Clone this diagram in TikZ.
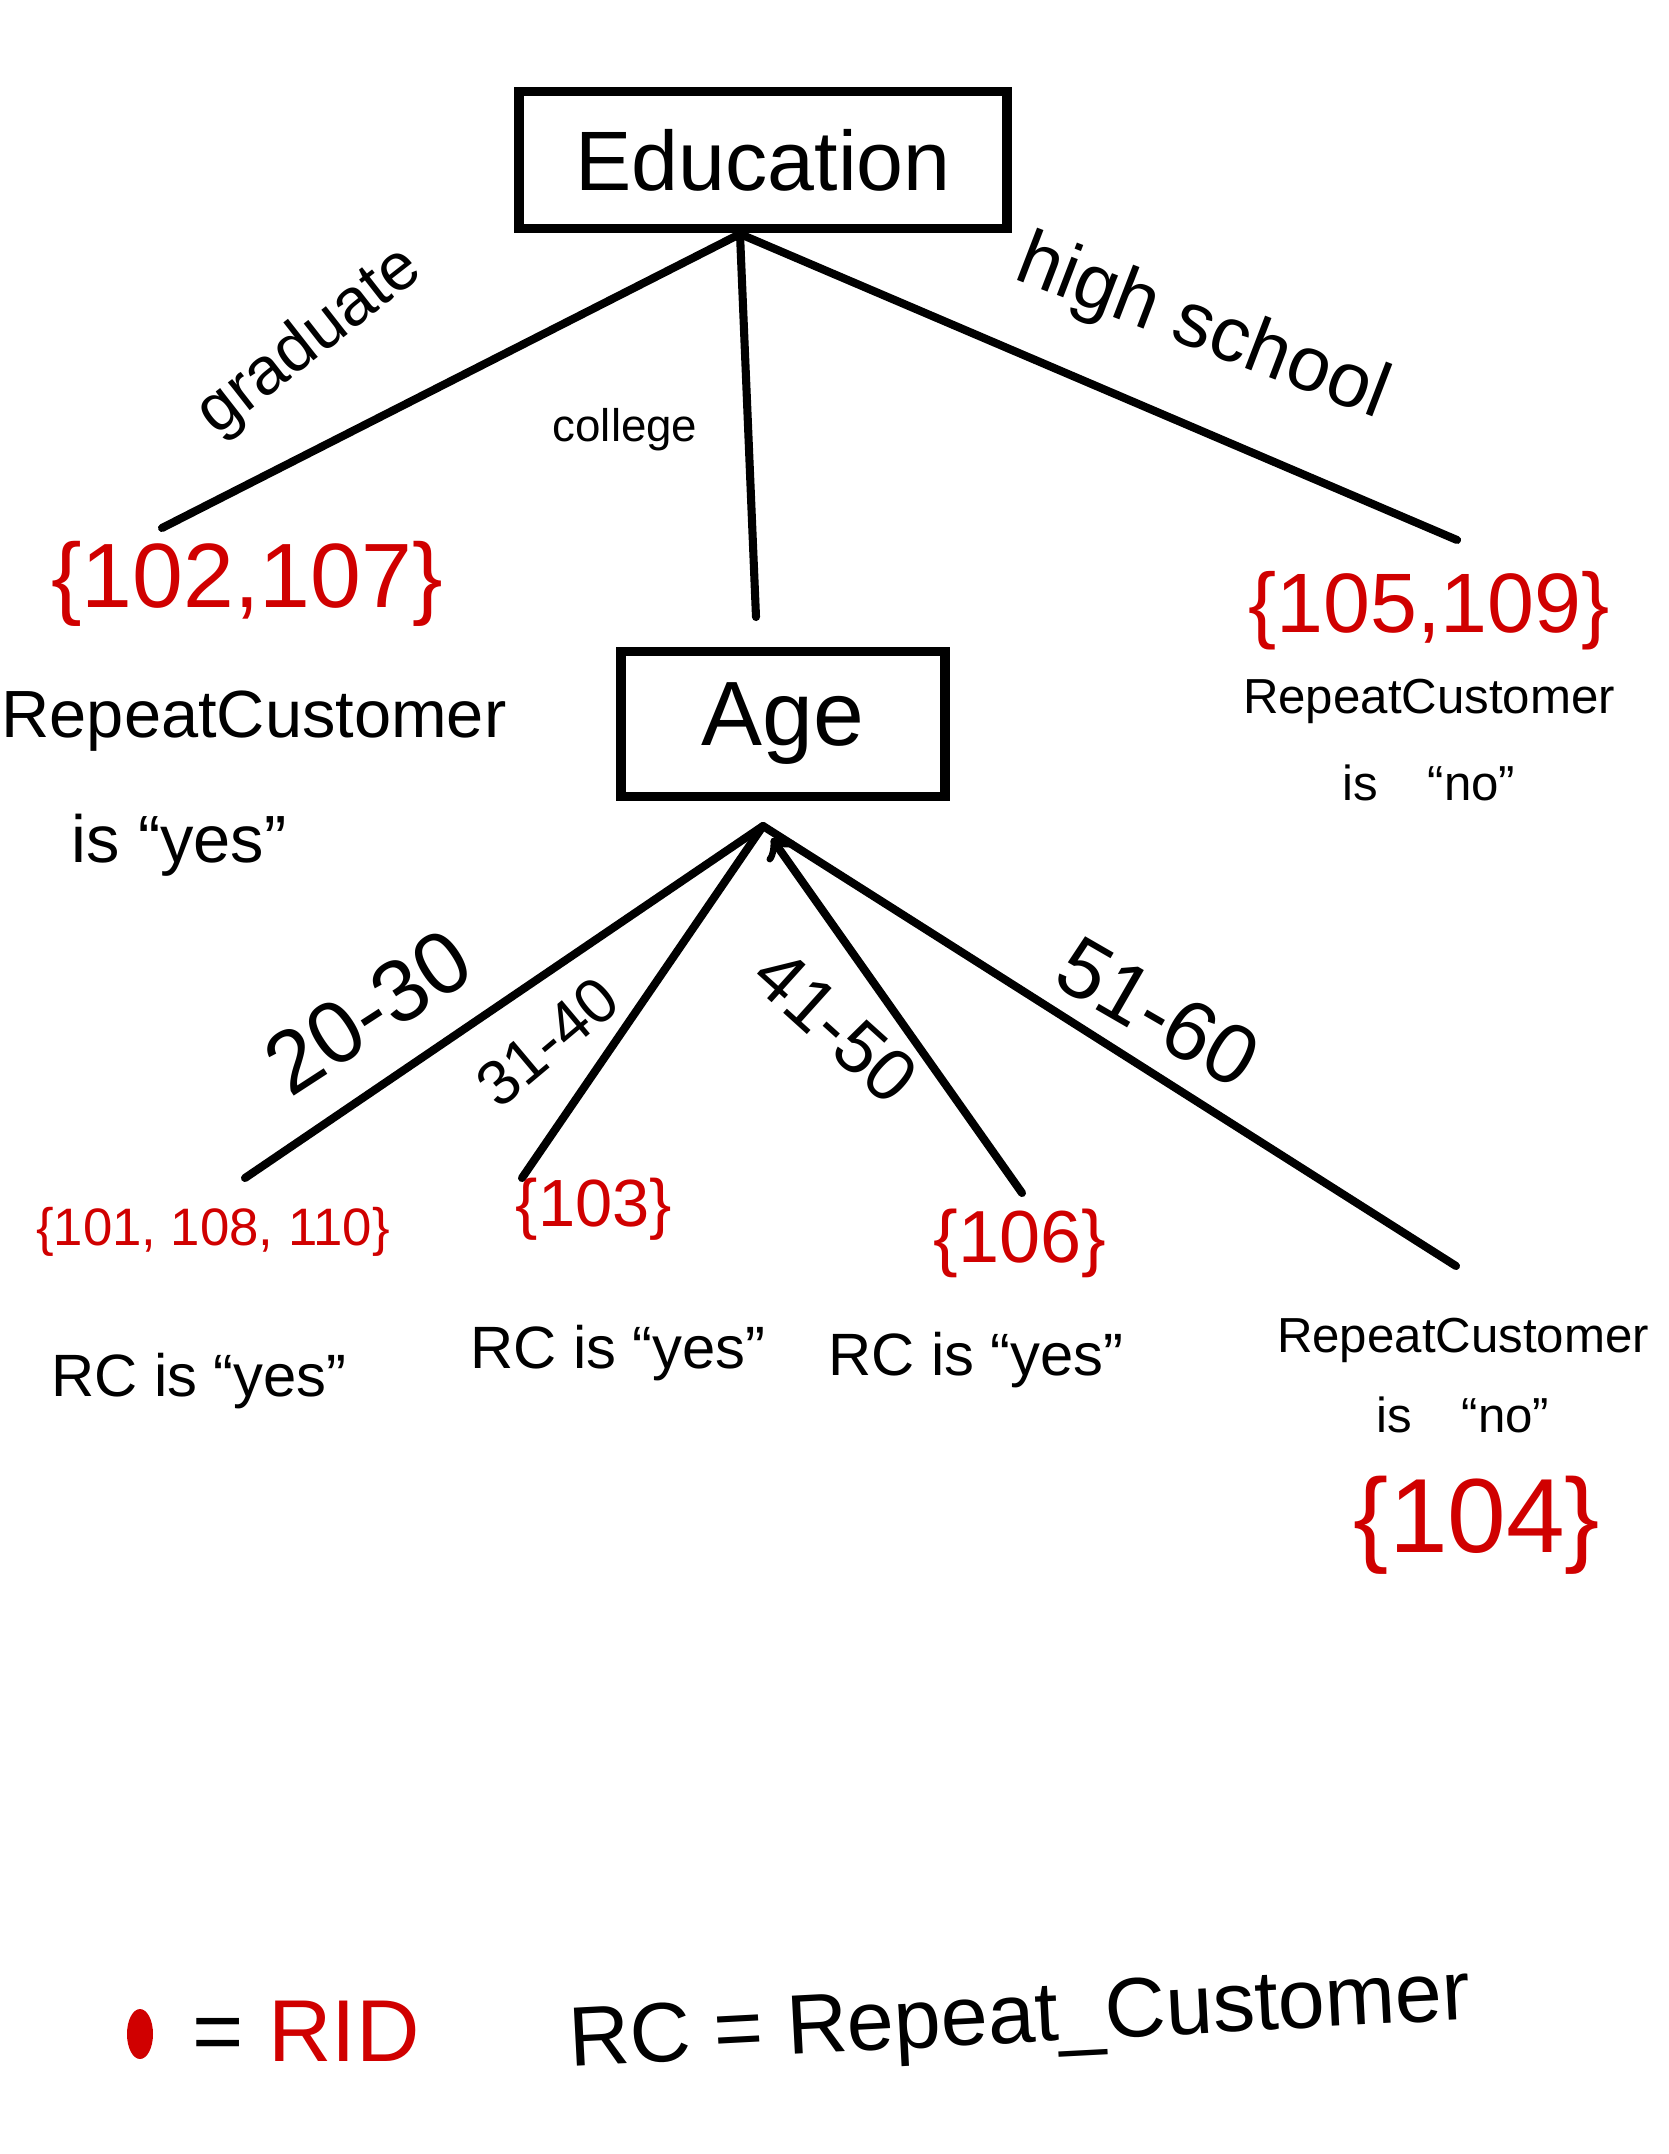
\documentclass[tikz,border=0pt]{standalone}
\usepackage{fontspec}
\setmainfont{Liberation Sans}
\definecolor{ridred}{RGB}{208,0,0}
\newcommand{\fsz}[1]{\fontsize{#1}{#1}\selectfont}
\tikzset{
  branch/.style={line width=2.3pt, line cap=round},
  attrbox/.style={draw, line width=2.8pt},
  ridset/.style={text=ridred},
}
\begin{document}
\begin{tikzpicture}
      [auto]
      \useasboundingbox (0,0) rectangle (16.68,-21.54);
      % attribute boxes
      \node[attrbox, minimum width=4.88cm, minimum height=1.37cm, font=\fsz{24}](edu) at (7.63, -1.60) {Education};
      \node[attrbox, minimum width=3.24cm, minimum height=1.45cm, font=\fsz{26}](age) at (7.83, -7.24) {Age};
      \coordinate(e0) at (7.40, -2.34);
      \coordinate(a0) at (7.63, -8.26);
      \coordinate(g) at (1.62, -5.28);
      \coordinate(c) at (7.56, -6.17);
      \coordinate(h) at (14.57, -5.40);
      \coordinate(l1) at (2.45, -11.78);
      \coordinate(l2) at (5.22, -11.78);
      \coordinate(l3) at (10.22, -11.93);
      \coordinate(l4) at (14.56, -12.66);
      \draw[branch](e0) -- (g);
      \draw[branch](e0) -- (c);
      \draw[branch](e0) -- (h);
      \draw[branch](a0) -- (l1);
      \draw[branch](a0) -- (l2);
      \draw[branch,<-,shorten <=0.15cm](a0) -- (l3);
      \draw[branch](a0) -- (l4);
      % branch labels
      \node[rotate=38, font=\fsz{19}](gl) at (3.10, -3.42) {graduate};
      \node[font=\fsz{13}](cl) at (6.25, -4.30) {college};
      \node[rotate=-21, font=\fsz{22}](hl) at (12.02, -3.30) {high school};
      \node[rotate=33, font=\fsz{25}](al1) at (3.68, -10.12) {20-30};
      \node[rotate=40, font=\fsz{18}](al2) at (5.47, -10.42) {31-40};
      \node[rotate=-42, font=\fsz{21}](al3) at (8.36, -10.26) {41-50};
      \node[rotate=-30, font=\fsz{24}](al4) at (11.58, -10.12) {51-60};
      % leaves
      \node[ridset, font=\fsz{26}](s1) at (2.47, -5.84) {\{102,107\}};
      \node[font=\fsz{19}](r1) at (2.54, -7.21) {RepeatCustomer};
      \node[font=\fsz{19}](v1) at (1.79, -8.45) {is ``yes''};
      \node[ridset, font=\fsz{24}](s2) at (14.29, -6.11) {\{105,109\}};
      \node[font=\fsz{14}](r2) at (14.29, -7.01) {RepeatCustomer};
      \node[font=\fsz{14}](v2) at (14.29, -7.83) {is\quad``no''};
      \node[ridset, font=\fsz{15}](s3) at (2.13, -12.32) {\{101, 108, 110\}};
      \node[font=\fsz{17}](v3) at (1.99, -13.81) {RC is ``yes''};
      \node[ridset, font=\fsz{19}](s4) at (5.94, -12.09) {\{103\}};
      \node[font=\fsz{17}](v4) at (6.18, -13.53) {RC is ``yes''};
      \node[ridset, font=\fsz{21}](s5) at (10.20, -12.43) {\{106\}};
      \node[font=\fsz{17}](v5) at (9.76, -13.60) {RC is ``yes''};
      \node[font=\fsz{14}](r6) at (14.63, -13.40) {RepeatCustomer};
      \node[font=\fsz{14}](v6) at (14.63, -14.15) {is\quad``no''};
      \node[ridset, font=\fsz{30}](s6) at (14.77, -15.25) {\{104\}};
      % legend
      \fill[ridred] (1.40, -20.34) ellipse (0.13 and 0.25);
      \node[font=\fsz{25}](k1) at (3.06, -20.31) {= \textcolor{ridred}{RID}};
      \node[rotate=3, font=\fsz{24}](k2) at (10.20, -20.22) {RC = Repeat\_Customer};
  \end{tikzpicture}
\end{document}
